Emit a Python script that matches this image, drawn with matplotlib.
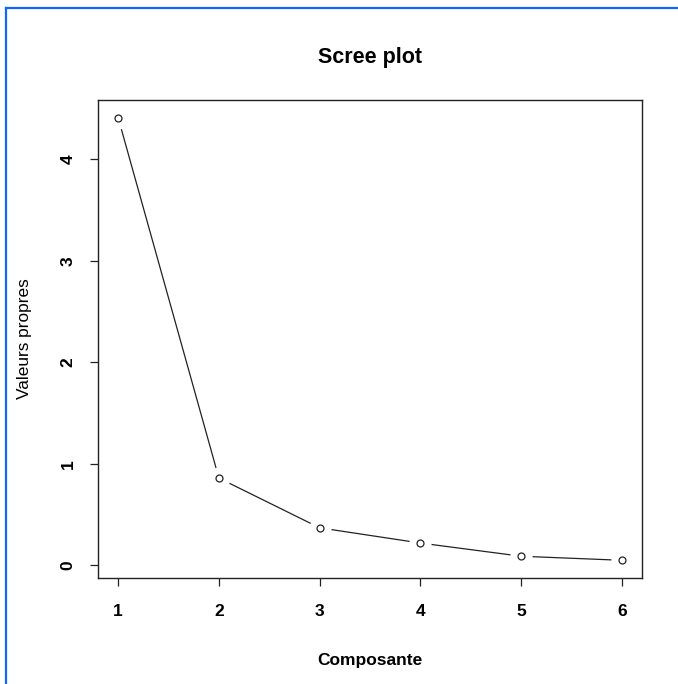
import numpy as np
import matplotlib.pyplot as plt
from matplotlib.lines import Line2D

# Eigenvalues for each principal component
composante = [1, 2, 3, 4, 5, 6]
valeurs_propres = [4.41, 0.86, 0.37, 0.22, 0.09, 0.05]

plt.rcParams['font.family'] = ['Liberation Sans', 'DejaVu Sans']

W, H = 678, 684
fig = plt.figure(figsize=(W / 100, H / 100), dpi=100)
fig.patch.set_facecolor('white')

# plot region in pixels: left 98, right 642, top 100, bottom 578
ax = fig.add_axes([98 / W, 1 - 578 / H, 544 / W, 478 / H])

# R-style 4% axis expansion
x = np.array(composante, dtype=float)
y = np.array(valeurs_propres)
dx = 0.04 * (x.max() - x.min())
dy = 0.04 * (y.max() - y.min())
ax.set_xlim(x.min() - dx, x.max() + dx)
ax.set_ylim(y.min() - dy, y.max() + dy)

# type="b": line with gaps around the points
ax.plot(x, y, color='#222222', lw=0.9, zorder=2)
ax.plot(x, y, ls='none', marker='o', ms=16, mfc='white', mec='none', zorder=3)
ax.plot(x, y, ls='none', marker='o', ms=5, mfc='white', mec='#222222', mew=0.9, zorder=4)

ax.set_xticks(composante)
ax.set_yticks([0, 1, 2, 3, 4])
ax.tick_params(direction='out', length=6, width=0.9, color='#222222')
ax.tick_params(axis='x', pad=13)
ax.tick_params(axis='y', pad=10)
for lab in ax.get_xticklabels():
    lab.set_fontsize(12.5)
    lab.set_fontweight('bold')
for lab in ax.get_yticklabels():
    lab.set_fontsize(12.5)
    lab.set_fontweight('bold')
    lab.set_rotation(90)
    lab.set_va('center')
    lab.set_ha('right')
for s in ax.spines.values():
    s.set_linewidth(1.0)
    s.set_color('#222222')

fig.text(370 / W, 1 - 63 / H, 'Scree plot', ha='center', va='baseline',
         fontsize=15.5, fontweight='bold')
fig.text(370 / W, 1 - 665 / H, 'Composante', ha='center', va='baseline',
         fontsize=12.5, fontweight='bold')
fig.text(25 / W, 1 - 339 / H, 'Valeurs propres', ha='center', va='center',
         rotation=90, fontsize=12.4)

# blue frame on the left and top edges
fig.add_artist(Line2D([5.5 / W, 1], [1 - 8 / H, 1 - 8 / H], color='#1166ff', lw=1.6,
                      transform=fig.transFigure))
fig.add_artist(Line2D([6 / W, 6 / W], [0, 1 - 7.5 / H], color='#1166ff', lw=1.6,
                      transform=fig.transFigure))

fig.savefig('out.png', dpi=100)
